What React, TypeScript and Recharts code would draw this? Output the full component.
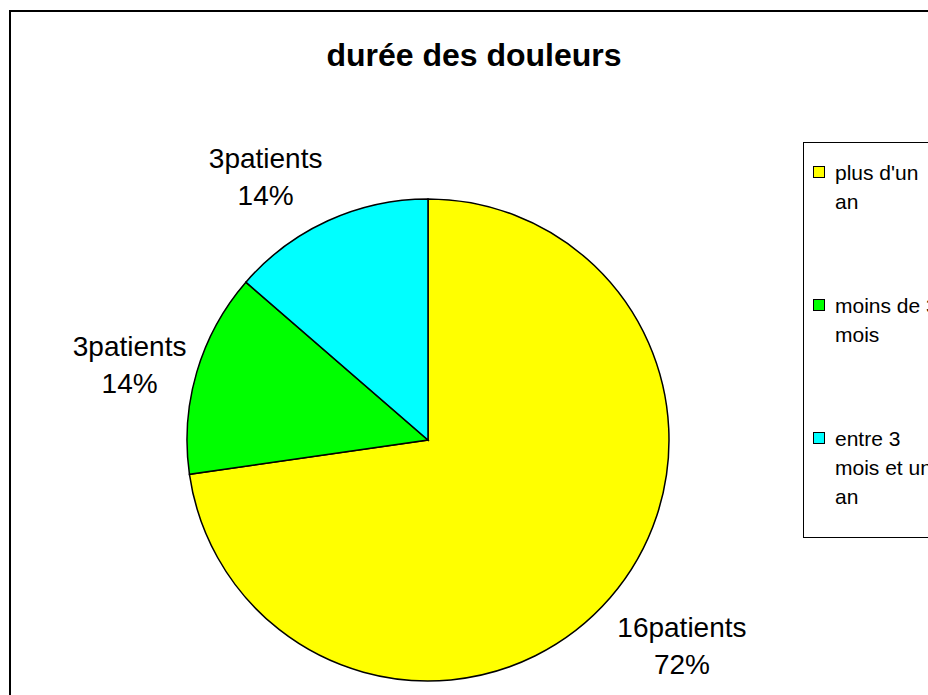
import { PieChart, Pie, Cell, Legend } from 'recharts'

const categories = ["plus d'un an", 'moins de 3 mois', 'entre 3 mois et un an']
const patients = [16, 3, 3]
const percents = ['72%', '14%', '14%']
const colors = ['#FFFF00', '#00FF00', '#00FFFF']

const data = categories.map((name, i) => ({ name, value: patients[i] }))
const font = '"Liberation Sans", Arial, sans-serif'

// anchor just outside the rim at the mid angle, then hang the two-line box off it
const renderLabel = (p: any) => {
  const RAD = Math.PI / 180
  const ux = Math.cos(-p.midAngle * RAD)
  const uy = Math.sin(-p.midAngle * RAD)
  const line1 = `${p.value}patients`
  const hw = line1.length * 6.5
  const r = p.outerRadius + 9
  const x = p.cx + ux * r + hw * Math.sign(ux)
  const y = p.cy + uy * r + 50 * uy + 10
  return (
    <text x={x} y={y} textAnchor="middle" fontSize={28} fill="#000" fontFamily={font}>
      <tspan x={x} y={y - 18.5} dominantBaseline="central">{line1}</tspan>
      <tspan x={x} y={y + 18.5} dominantBaseline="central">{percents[p.index]}</tspan>
    </text>
  )
}

const renderLegend = () => (
  <div style={{ width: 200, height: 396, border: '1.5px solid #000', background: '#fff', boxSizing: 'border-box', paddingTop: 15, fontFamily: font }}>
    {categories.map((name, i) => (
      <div key={name} style={{ position: 'relative', height: 133 }}>
        <span style={{ position: 'absolute', left: 9, top: 8, width: 10, height: 10, border: '1.5px solid #000', background: colors[i] }} />
        <div style={{ position: 'absolute', left: 31, top: 0, width: 108, fontSize: 21, lineHeight: '29px', color: '#000' }}>{name}</div>
      </div>
    ))}
  </div>
)

export default function App() {
  return (
    <div style={{ position: 'fixed', left: 0, top: 0, width: 928, height: 695, overflow: 'hidden', background: '#fff' }}>
      <div style={{ position: 'absolute', left: 9, top: 10, width: 1000, height: 1000, border: '2px solid #000', boxSizing: 'border-box' }} />
      <div style={{ position: 'absolute', left: 74, top: 36, width: 800, textAlign: 'center', fontFamily: font, fontWeight: 'bold', fontSize: 32, lineHeight: '38px', color: '#000' }}>
        durée des douleurs
      </div>
      <div style={{ position: 'absolute', left: 0, top: 0 }}>
        <PieChart width={960} height={700} margin={{ top: 0, right: 0, bottom: 0, left: 0 }}>
          <Pie
            data={data}
            dataKey="value"
            nameKey="name"
            cx={428}
            cy={440}
            outerRadius={241}
            startAngle={90}
            endAngle={-270}
            stroke="#000"
            strokeWidth={1.5}
            label={renderLabel}
            labelLine={false}
            isAnimationActive={false}
          >
            {data.map((d, i) => (
              <Cell key={d.name} fill={colors[i]} />
            ))}
          </Pie>
          <Legend content={renderLegend} wrapperStyle={{ position: 'absolute', left: 803, top: 142, width: 200 }} />
        </PieChart>
      </div>
    </div>
  )
}
